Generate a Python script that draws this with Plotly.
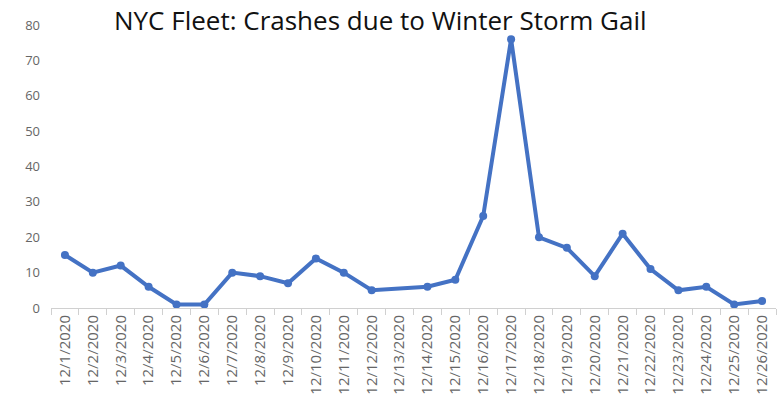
import plotly.graph_objects as go

# Daily crash counts for the NYC fleet, December 2020 (no report on 12/13)
dates = [f"12/{d}/2020" for d in range(1, 27)]
crashes = [15, 10, 12, 6, 1, 1, 10, 9, 7, 14, 10, 5, None,
           6, 8, 26, 76, 20, 17, 9, 21, 11, 5, 6, 1, 2]
y_ticks = [0, 10, 20, 30, 40, 50, 60, 70, 80]

fig = go.Figure(
    go.Scatter(
        x=dates,
        y=crashes,
        mode="lines+markers",
        connectgaps=True,
        line=dict(color="#4472C4", width=4),
        marker=dict(color="#4472C4", size=8),
        hoverinfo="x+y",
    )
)

fig.update_layout(
    width=780,
    height=395,
    margin=dict(l=51, r=4, t=25, b=87),
    paper_bgcolor="white",
    plot_bgcolor="white",
    showlegend=False,
    font=dict(family="Open Sans", color="#666666", size=13),
    annotations=[
        dict(
            text="NYC Fleet: Crashes due to Winter Storm Gail",
            xref="paper", yref="paper",
            x=0.454, y=1.0, xanchor="center", yanchor="middle",
            yshift=5,
            showarrow=False,
            font=dict(family="Open Sans", size=26, color="#111111"),
        )
    ],
)

fig.update_xaxes(
    type="category",
    range=[-0.5, len(dates) - 0.5],
    tickangle=-90,
    tickson="boundaries",
    ticks="outside",
    ticklen=6,
    tickcolor="#d0d0d0",
    showline=True,
    linecolor="#d0d0d0",
    linewidth=1,
    showgrid=False,
    automargin=False,
    tickfont=dict(size=15, color="#666666"),
)

fig.update_yaxes(
    range=[0, 80],
    tickvals=y_ticks,
    showgrid=False,
    zeroline=False,
    showline=False,
    ticks="",
    ticklabelstandoff=10,
    automargin=False,
    tickfont=dict(size=13, color="#666666"),
)

fig.write_html("out.html")
